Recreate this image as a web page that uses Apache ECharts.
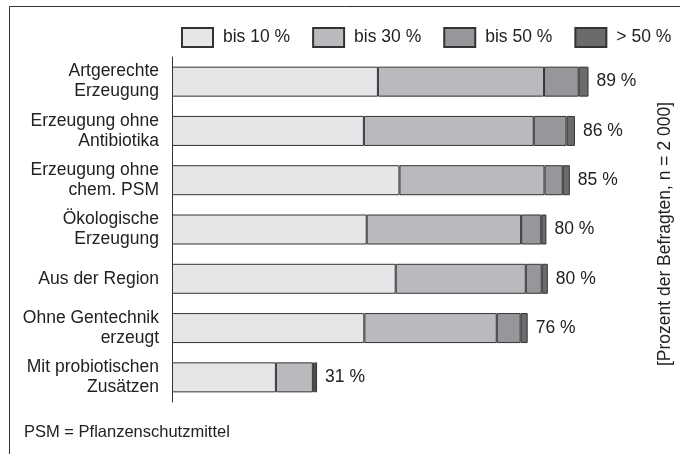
<!DOCTYPE html>
<html>
<head>
<meta charset="utf-8">
<script src="https://cdn.jsdelivr.net/npm/echarts@6/dist/echarts.min.js"></script>
<style>
    html, body { margin: 0; padding: 0; background: #fff; }
    #container { width: 680px; height: 454px; }
</style>
</head>
<body>
<div id="container"></div>
<script>
var categories = ['Artgerechte\nErzeugung', 'Erzeugung ohne\nAntibiotika', 'Erzeugung ohne\nchem. PSM', 'Ökologische\nErzeugung', 'Aus der Region', 'Ohne Gentechnik\nerzeugt', 'Mit probiotischen\nZusätzen'];
var legendArr = ['bis 10 %', 'bis 30 %', 'bis 50 %', '> 50 %'];
var bis10 = [44, 41, 48.6, 41.6, 47.8, 41.1, 22.2];
var bis30 = [35.5, 36.3, 31, 33, 27.8, 28.3, 7.9];
var bis50 = [7.4, 7, 3.9, 4.3, 3.4, 5.1, 0.4];
var ueber50 = [2.1, 1.8, 1.5, 1.1, 1.3, 1.5, 0.5];
var totals = [89, 86, 85, 80, 80, 76, 31];

var font = "'Liberation Sans', Arial, sans-serif";
var fs = 17.5;
var colors = ['#e5e6e8', '#b9babd', '#96979a', '#6a6b6d'];

window.onload = function () {
    var myChart = echarts.init(document.getElementById('container'));

    function makeSeries(name, data, idx) {
        var s = {
            name: name,
            type: 'bar',
            stack: 'total',
            barWidth: 30,
            data: data,
            itemStyle: {
                color: colors[idx],
                borderColor: '#333',
                borderWidth: 1
            }
        };
        // 最后一段显示总数
        if (idx == 3) {
            s.label = {
                show: true,
                position: 'right',
                distance: 8,
                fontFamily: font,
                fontSize: fs,
                color: '#222',
                formatter: function (p) {
                    return totals[p.dataIndex] + ' %';
                }
            };
        }
        return s;
    }

    var option = {
        animation: false,
        textStyle: { fontFamily: font },
        legend: {
            left: 181,
            top: 27,
            width: 500,
            padding: 0,
            icon: 'rect',
            itemWidth: 31,
            itemHeight: 19,
            itemGap: 22,
            data: legendArr,
            textStyle: {
                fontFamily: font,
                fontSize: fs,
                color: '#222',
                padding: [0, 0, 0, 5]
            }
        },
        grid: {
            left: 172,
            right: 40,
            top: 57,
            bottom: 52
        },
        xAxis: {
            type: 'value',
            min: 0,
            max: 100,
            show: false
        },
        yAxis: {
            type: 'category',
            inverse: true,
            data: categories,
            axisLine: { lineStyle: { color: '#333', width: 1 } },
            axisTick: { length: 4, lineStyle: { color: '#333' } },
            axisLabel: {
                margin: 13,
                fontFamily: font,
                fontSize: fs,
                lineHeight: 20,
                color: '#222'
            }
        },
        graphic: [
            {
                type: 'rect',
                shape: { x: 9.5, y: 6.5, width: 700, height: 480 },
                style: { fill: null, stroke: '#333', lineWidth: 1 },
                silent: true
            },
            {
                type: 'text',
                x: 665,
                y: 234,
                rotation: Math.PI / 2,
                style: {
                    text: '[Prozent der Befragten, n = 2 000]',
                    fontFamily: font,
                    fontSize: fs,
                    fill: '#222',
                    align: 'center',
                    verticalAlign: 'middle'
                }
            },
            {
                type: 'text',
                x: 24,
                y: 432,
                style: {
                    text: 'PSM = Pflanzenschutzmittel',
                    fontFamily: font,
                    fontSize: 16.5,
                    fill: '#222',
                    align: 'left',
                    verticalAlign: 'middle'
                }
            }
        ],
        series: [
            makeSeries(legendArr[0], bis10, 0),
            makeSeries(legendArr[1], bis30, 1),
            makeSeries(legendArr[2], bis50, 2),
            makeSeries(legendArr[3], ueber50, 3)
        ]
    };
    myChart.setOption(option);
};
</script>
</body>
</html>
